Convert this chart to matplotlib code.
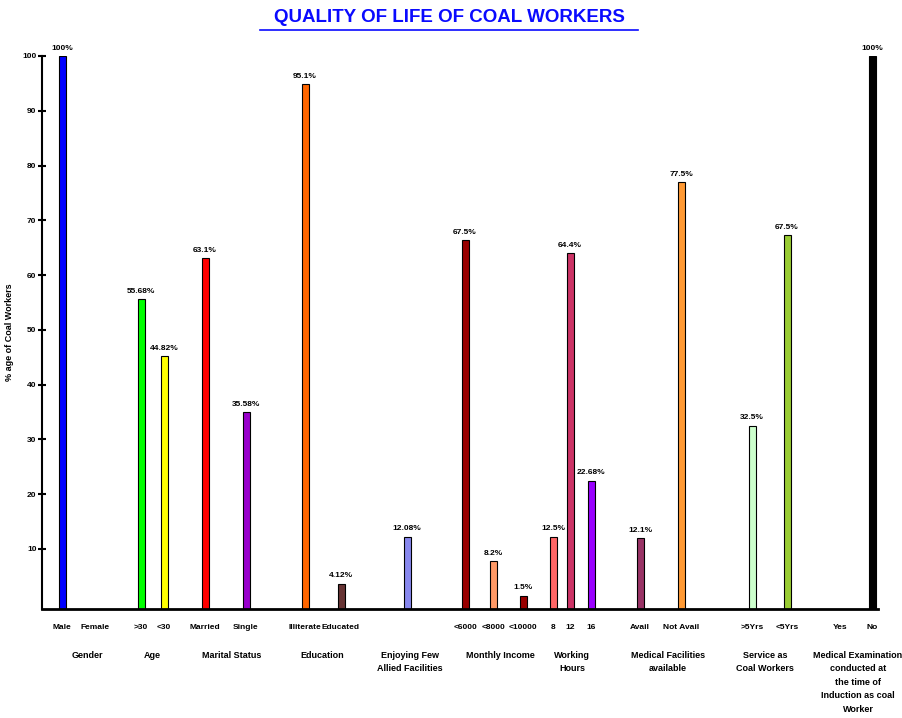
import matplotlib.pyplot as plt

# categories, values (% of coal workers) and the printed value labels
categories = ['Male', 'Female', '>30', '<30', 'Married', 'Single', 'Illiterate', 'Educated',
              '', '<6000', '<8000', '<10000', '8', '12', '16', 'Avail', 'Not Avail',
              '>5Yrs', '<5Yrs', 'Yes', 'No']
values = [100, 0, 55.6, 45.2, 63.1, 34.9, 94.9, 3.6, 12.2, 66.4, 7.7, 1.4, 12.2, 64.0,
          22.4, 11.9, 77.0, 32.5, 67.3, 0, 100]
value_labels = ['100%', '', '55.68%', '44.82%', '63.1%', '35.58%', '95.1%', '4.12%', '12.08%',
                '67.5%', '8.2%', '1.5%', '12.5%', '64.4%', '22.68%', '12.1%', '77.5%',
                '32.5%', '67.5%', '', '100%']
colors = ['#0000ff', '#ffffff', '#00ff00', '#ffff00', '#ff0000', '#9900cc', '#ff6600', '#663333',
          '#8888ee', '#990000', '#ff9966', '#990000', '#ff6666', '#cc3366', '#9900ff', '#993366',
          '#ff9933', '#ccffcc', '#99cc33', '#ffffff', '#000000']
groups = ['Gender', 'Age', 'Marital Status', 'Education', 'Enjoying Few\nAllied Facilities',
          'Monthly Income', 'Working\nHours', 'Medical Facilities\navailable',
          'Service as\nCoal Workers',
          'Medical Examination\nconducted at\nthe time of\nInduction as coal\nWorker']

# layout (horizontal positions in axis units)
xpos = [62, 95, 141, 164, 205, 246, 305, 341, 407, 465, 493, 523, 553, 570, 591,
        640, 681, 752, 787, 840, 872]
group_x = [87, 152, 232, 322, 410, 500, 572, 668, 765, 858]

fig = plt.figure(figsize=(9.02, 7.18), dpi=100)
ax = fig.add_axes([42 / 902, 109 / 718, 836 / 902, 553 / 718])

bw = 7
for x, v, c in zip(xpos, values, colors):
    if v > 0:
        ax.bar(x, v + 1, bottom=-1, width=bw, color=c, edgecolor='black', linewidth=0.8)
for x, v, lab in zip(xpos, values, value_labels):
    if lab:
        ax.text(x, v + 0.8, lab, ha='center', va='bottom', fontsize=6, fontweight='heavy',
                family='Liberation Sans')

ax.set_xlim(42, 878)
ax.set_ylim(-1, 100)
ax.set_yticks(range(10, 101, 10))
ax.set_yticklabels([str(t) for t in range(10, 101, 10)], fontsize=6, fontweight='bold',
                   family='Liberation Sans')
ax.tick_params(axis='y', direction='inout', length=6, width=1.5, pad=1)
ax.set_xticks([])
for s in ['top', 'right']:
    ax.spines[s].set_visible(False)
ax.spines['left'].set_linewidth(1.5)
ax.spines['bottom'].set_linewidth(2)
ax.set_ylabel('% age of Coal Workers', fontsize=6.5, fontweight='bold', family='Liberation Sans',
              labelpad=6)

# category labels and group labels under the axis
for x, c in zip(xpos, categories):
    ax.text(x, -4.4, c, ha='center', va='center', fontsize=6, fontweight='bold',
            family='Liberation Sans')
for x, g in zip(group_x, groups):
    ax.text(x, -8.6, g, ha='center', va='top', fontsize=6.5, fontweight='bold',
            family='Liberation Sans', linespacing=1.65)

fig.text(449 / 902, 1 - 17 / 718, 'QUALITY OF LIFE OF COAL WORKERS', ha='center', va='center',
         fontsize=13.5, fontweight='heavy', color='#0a0aff', family='Liberation Sans')
fig.add_artist(plt.Line2D([260 / 902, 638 / 902], [1 - 30 / 718, 1 - 30 / 718],
                          color='#0a0aff', linewidth=1.2))

fig.savefig('out.png', dpi=100)
